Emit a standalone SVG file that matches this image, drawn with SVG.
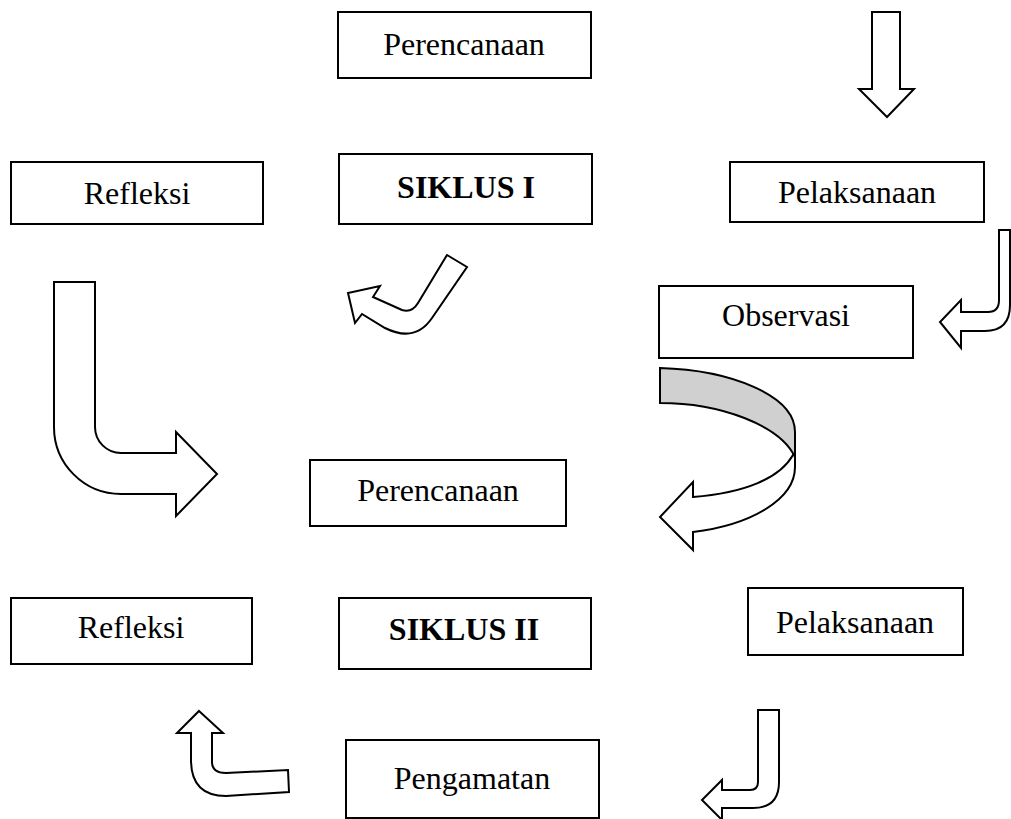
<svg xmlns="http://www.w3.org/2000/svg" width="1011" height="819" viewBox="0 0 1011 819">
<style>
.box{fill:#fff;stroke:#000;stroke-width:2}
.t{font-family:"Liberation Serif","Times New Roman",serif;font-size:32px;fill:#000;text-anchor:middle}
.b{font-weight:bold}
.arr{fill:#fff;stroke:#000;stroke-width:2;stroke-linejoin:miter}
.gray{fill:#d0d0d0;stroke:#000;stroke-width:2}
</style>
<rect width="1011" height="819" fill="#fff"/>
<g id="connectors">
<polygon class="arr" points="872,12 900,12 900,89 914,89 887,117 859,89 872,89"/>
<path class="arr" d="M999,230 L1010,230 L1010,305 Q1010,331 985,331 L961,331 L961,348 L940,322 L961,300 L961,312 L988,312 Q999,312 999,300 Z"/>
<path class="arr" d="M447,255 L467,267 L432,318 Q415,343 385,328 L362,314 L355,323 L348,293 L380,286 L373,297 L402,310 Q412,313 418,303 Z"/>
<path class="arr" d="M795,455 L795,467 C795,500 750,525 693,532 L693,550 L660,517 L693,482 L693,497 C745,493 780,478 793,455 Z"/>
<path class="gray" d="M660,368 C730,370 795,395 795,432 L795,457 C780,425 720,403 660,403 Z"/>
<path class="arr" d="M54,282 L95,282 L95,427 A26,26 0 0 0 121,453 L176,453 L176,432 L217,474 L176,516 L176,494 L121,494 A67,67 0 0 1 54,427 Z"/>
<path class="arr" d="M199,711 L223,733 L212,733 L212,762 Q212,773 226,773 L288,770 L289,792 L226,796 Q191,796 191,760 L191,733 L177,733 Z"/>
<path class="arr" d="M758,710 L779,710 L779,782 Q779,808 753,808 L722,808 L722,820 L702,800 L722,780 L722,790 L750,790 Q758,790 758,782 Z"/>
</g>
<g id="perencanaan1"><rect class="box" x="338" y="12" width="253" height="66"/><text class="t" x="464" y="55">Perencanaan</text></g>
<g id="refleksi1"><rect class="box" x="11" y="162" width="252" height="62"/><text class="t" x="137" y="204">Refleksi</text></g>
<g id="siklus1"><rect class="box" x="339" y="154" width="253" height="70"/><text class="t b" x="466" y="198">SIKLUS I</text></g>
<g id="pelaksanaan1"><rect class="box" x="730" y="162" width="254" height="60"/><text class="t" x="857" y="203">Pelaksanaan</text></g>
<g id="observasi"><rect class="box" x="659" y="286" width="254" height="72"/><text class="t" x="786" y="326">Observasi</text></g>
<g id="perencanaan2"><rect class="box" x="310" y="460" width="256" height="66"/><text class="t" x="438" y="501">Perencanaan</text></g>
<g id="refleksi2"><rect class="box" x="11" y="598" width="241" height="66"/><text class="t" x="131" y="638">Refleksi</text></g>
<g id="siklus2"><rect class="box" x="339" y="598" width="252" height="71"/><text class="t b" x="464" y="640">SIKLUS II</text></g>
<g id="pelaksanaan2"><rect class="box" x="748" y="588" width="215" height="67"/><text class="t" x="855" y="633">Pelaksanaan</text></g>
<g id="pengamatan"><rect class="box" x="346" y="740" width="253" height="78"/><text class="t" x="472" y="789">Pengamatan</text></g>
</svg>
